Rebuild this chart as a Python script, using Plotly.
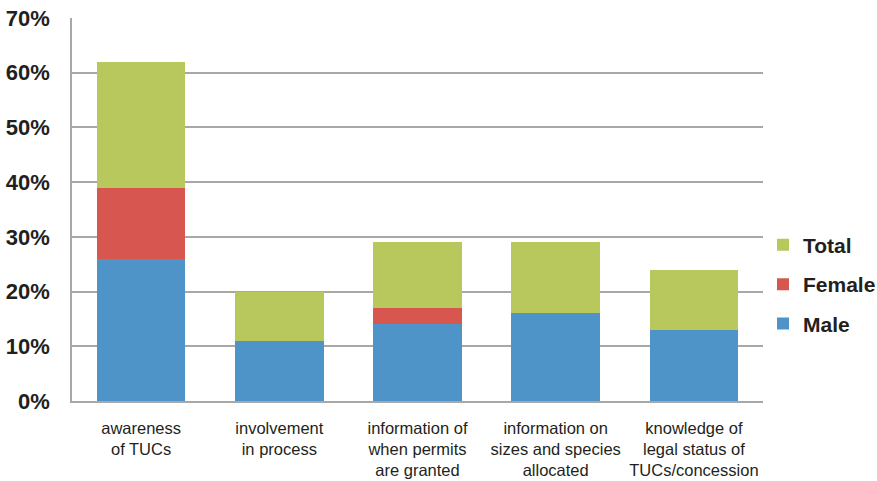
import plotly.graph_objects as go

# Survey responses by topic, stacked as Male / Female / Total segments (percent)
categories = [
    "awareness<br>of TUCs",
    "involvement<br>in process",
    "information of<br>when permits<br>are granted",
    "information on<br>sizes and species<br>allocated",
    "knowledge of<br>legal status of<br>TUCs/concession",
]
male = [26, 11, 14, 16, 13]
female = [13, 0, 3, 0, 0]
total = [23, 9, 12, 13, 11]

y_ticks = [0, 10, 20, 30, 40, 50, 60, 70]
y_tick_text = [f"{v}%" for v in y_ticks]

colors = {"Male": "#4f94c9", "Female": "#d75650", "Total": "#b8c85c"}
legend_rank = {"Total": 1, "Female": 2, "Male": 3}

fig = go.Figure()
for name, vals in [("Male", male), ("Female", female), ("Total", total)]:
    fig.add_trace(go.Bar(
        x=categories, y=vals, name=name, legendgroup=name,
        legendrank=legend_rank[name],
        marker=dict(color=colors[name], line=dict(width=0)),
        width=0.64,
    ))

fig.update_layout(
    barmode="stack",
    width=877, height=481,
    margin=dict(l=72, r=114, t=18, b=80, autoexpand=False),
    paper_bgcolor="white", plot_bgcolor="white",
    showlegend=True,
    legend=dict(
        traceorder="grouped", tracegroupgap=9,
        x=1.0, xanchor="left", y=0.305, yanchor="middle",
        font=dict(family="Liberation Sans", size=21, color="#231f20", weight="bold"),
        itemwidth=30,
    ),
    font=dict(family="Liberation Sans", color="#231f20"),
)

fig.update_yaxes(
    range=[0, 70], tickvals=y_ticks, ticktext=y_tick_text,
    showgrid=True, gridcolor="#a8a8a8", gridwidth=1.5,
    showline=True, linecolor="#a8a8a8", linewidth=1.5,
    ticks="", ticklabelstandoff=16, automargin=False,
    tickfont=dict(family="Liberation Sans", size=22, color="#231f20", weight="bold"),
    zeroline=False,
)
fig.update_xaxes(
    showline=True, linecolor="#a8a8a8", linewidth=1.5,
    ticks="", ticklabelstandoff=11, automargin=False,
    tickfont=dict(family="Liberation Sans", size=16.5, color="#231f20"),
    tickangle=0,
)

fig.write_html("out.html")
